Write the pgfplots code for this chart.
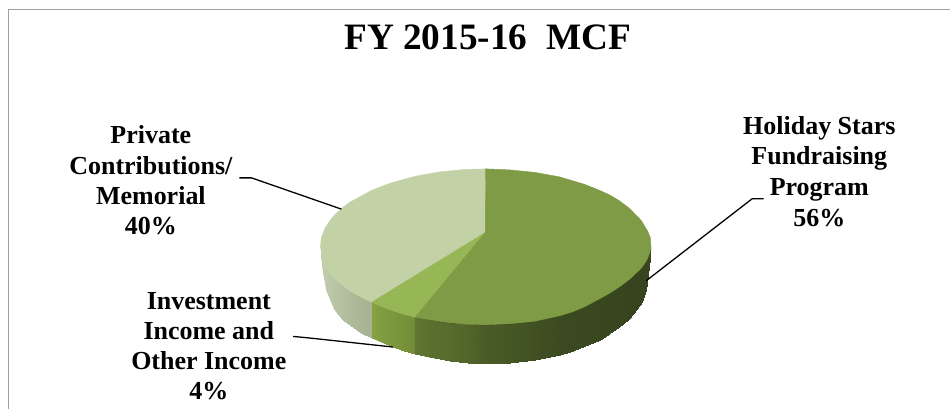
\documentclass[border=0pt]{standalone}
\usepackage{pgfplots}
\pgfplotsset{compat=1.18}
\usepackage{fontspec}
\setmainfont{Liberation Serif}
\definecolor{frameg}{HTML}{A0A0A0}
\definecolor{topL}{HTML}{C3D2A6}
\definecolor{topM}{HTML}{97B655}
\definecolor{topD}{HTML}{7F9B45}
\definecolor{sideL}{HTML}{AEBB99}
\definecolor{sideM}{HTML}{7E9A3D}
\definecolor{sideD}{HTML}{414F23}
\pgfplotsset{strip/.style={fill=#1,draw=#1,line width=0.4pt,mark=none}}
\begin{document}
\begin{tikzpicture}
\begin{axis}[
  scale only axis, width=951pt, height=409pt, at={(0,0)}, anchor=south west,
  xmin=0, xmax=951, ymin=0, ymax=409, y dir=reverse,
  axis lines=none, clip=false,
  point meta min=0, point meta max=32,
  colormap={pie}{rgb255(0)=(194,207,174) rgb255(6)=(165,177,145) rgb255(7)=(134,162,68) rgb255(10)=(114,141,55) rgb255(11)=(95,117,49) rgb255(16)=(73,91,38) rgb255(20)=(59,74,32) rgb255(28)=(54,67,30) rgb255(32)=(58,71,34)}]
% frame
\addplot[frameg, line width=1.6pt, mark=none] coordinates {(8.5,409)(8.5,9.6)(951,9.6)};
% side silhouettes under the gradient
\addplot[strip=sideL] coordinates {(321.5,252)(321.5,254)(323.5,272)(327,291)(335,310)(343,320)(350,325)(361,333)(372,338)(372,302.5)} -- cycle;
\addplot[strip=sideM] coordinates {(372,302.5)(372,338)(382,342.5)(393,347)(404,351)(415.5,354)(415.5,317.5)} -- cycle;
\addplot[strip=sideD] coordinates {(415.5,317.5)(415.5,354)(430,357.5)(450,361)(468,363)(486,364)(510,363)(535,360)(560,355)(573,351.5)(585,346)(600,340)(610,334)(620,327)(630,319)(638,309)(643,302)(647,290)(650,267)(651.5,249)(651.5,248)(630,279.5)(560,316)(486,325)} -- cycle;
% side gradient: left slice
\addplot[patch, patch type=rectangle, shader=interp, point meta=explicit] table[x=x,y=y,meta=c,row sep=\\] {
x y c\\
321.5 252 0\\ 321.5 254 0\\ 323.5 272 0.5\\ 323.5 263 0.5\\
323.5 263 0.5\\ 323.5 272 0.5\\ 327 291 1\\ 327 270 1\\
327 270 1\\ 327 291 1\\ 335 310 2\\ 335 279 2\\
335 279 2\\ 335 310 2\\ 343 320 3\\ 343 285.5 3\\
343 285.5 3\\ 343 320 3\\ 350 325 4\\ 350 291 4\\
350 291 4\\ 350 325 4\\ 361 333 5\\ 361 297 5\\
361 297 5\\ 361 333 5\\ 372 338 6\\ 372 302.5 6\\
};
% middle slice
\addplot[patch, patch type=rectangle, shader=interp, point meta=explicit] table[x=x,y=y,meta=c,row sep=\\] {
x y c\\
372 302.5 7\\ 372 338 7\\ 382 342.5 8\\ 382 307 8\\
382 307 8\\ 382 342.5 8\\ 393 347 8.5\\ 393 311 8.5\\
393 311 8.5\\ 393 347 8.5\\ 404 351 9.3\\ 404 314.5 9.3\\
404 314.5 9.3\\ 404 351 9.3\\ 415.5 354 10\\ 415.5 317.5 10\\
};
% main slice
\addplot[patch, patch type=rectangle, shader=interp, point meta=explicit] table[x=x,y=y,meta=c,row sep=\\] {
x y c\\
415.5 317.5 11\\ 415.5 354 11\\ 430 357.5 12\\ 430 320 12\\
430 320 12\\ 430 357.5 12\\ 450 361 13\\ 450 323 13\\
450 323 13\\ 450 361 13\\ 468 363 14\\ 468 324.5 14\\
468 324.5 14\\ 468 363 14\\ 486 364 16\\ 486 325 16\\
486 325 16\\ 486 364 16\\ 510 363 17\\ 510 324 17\\
510 324 17\\ 510 363 17\\ 535 360 18.5\\ 535 321.5 18.5\\
535 321.5 18.5\\ 535 360 18.5\\ 560 355 20\\ 560 316 20\\
560 316 20\\ 560 355 20\\ 573 351.5 21\\ 573 312 21\\
573 312 21\\ 573 351.5 21\\ 585 346 22\\ 585 307 22\\
585 307 22\\ 585 346 22\\ 600 340 23\\ 600 299 23\\
600 299 23\\ 600 340 23\\ 610 334 24\\ 610 293.5 24\\
610 293.5 24\\ 610 334 24\\ 620 327 25\\ 620 287 25\\
620 287 25\\ 620 327 25\\ 630 319 26\\ 630 279.5 26\\
630 279.5 26\\ 630 319 26\\ 638 309 28\\ 638 272 28\\
638 272 28\\ 638 309 28\\ 643 302 29\\ 643 267 29\\
643 267 29\\ 643 302 29\\ 647 290 30\\ 647 261 30\\
647 261 30\\ 647 290 30\\ 650 267 31\\ 650 254 31\\
650 254 31\\ 650 267 31\\ 651.5 249 32\\ 651.5 248 32\\
};
% top face
\addplot[strip=topL] coordinates {(485.7,232.7)(486,169)(465,169.6)(440,172)(415,176.5)(390,183.5)(372,190.5)(350,202.5)(342,208.5)(335,215)(330,221)(325,229)(321.5,238.4)(320.8,247)(323.5,263)(327,270)(335,279)(343,285.5)(350,291)(361,297)(372,302.5)} -- cycle;
\addplot[strip=topM] coordinates {(485.7,232.7)(372,302.5)(382,307)(393,311)(404,314.5)(415.5,317.5)} -- cycle;
\addplot[strip=topD] coordinates {(485.7,232.7)(486,169)(510,170)(535,172.5)(560,177)(585,184.5)(600,190.5)(610,195)(620,201)(630,208.5)(642,221)(648,231)(651,238)(651.5,248)(650,254)(647,261)(643,267)(638,272)(630,279.5)(620,287)(610,293.5)(600,299)(585,307)(573,312)(560,316)(535,321.5)(510,324)(486,325)(468,324.5)(450,323)(430,320)(415.5,317.5)} -- cycle;
% leader lines
\addplot[black, line width=1.3pt, mark=none] coordinates {(239.5,178)(251.7,178)(341.7,209.3)};
\addplot[black, line width=1.3pt, mark=none] coordinates {(293.3,336.7)(310,338.3)(393.3,347.3)};
\addplot[black, line width=1.3pt, mark=none] coordinates {(646.7,281)(752.7,199)(764.3,199)};
% text
\node[anchor=base, font=\fontsize{37.3}{40}\selectfont\bfseries] at (axis cs:488,49.3) {FY 2015-16\ \ MCF};
\newcommand{\lab}{\fontsize{26}{30}\selectfont\bfseries}
\node[anchor=base, font=\lab] at (axis cs:151,143.3) {Private};
\node[anchor=base, font=\lab] at (axis cs:151,174.3) {Contributions/};
\node[anchor=base, font=\lab] at (axis cs:151,205) {Memorial};
\node[anchor=base, font=\lab] at (axis cs:151,235) {40\%};
\node[anchor=base, font=\lab] at (axis cs:209,310) {Investment};
\node[anchor=base, font=\lab] at (axis cs:209,340) {Income and};
\node[anchor=base, font=\lab] at (axis cs:209,370) {Other Income};
\node[anchor=base, font=\lab] at (axis cs:209,400) {4\%};
\node[anchor=base, font=\lab] at (axis cs:820,134.7) {Holiday Stars};
\node[anchor=base, font=\lab] at (axis cs:820,165) {Fundraising};
\node[anchor=base, font=\lab] at (axis cs:820,196) {Program};
\node[anchor=base, font=\lab] at (axis cs:820,226.7) {56\%};
\end{axis}
\path[use as bounding box] (0,0) rectangle (951pt,409pt);
\end{tikzpicture}
\end{document}
